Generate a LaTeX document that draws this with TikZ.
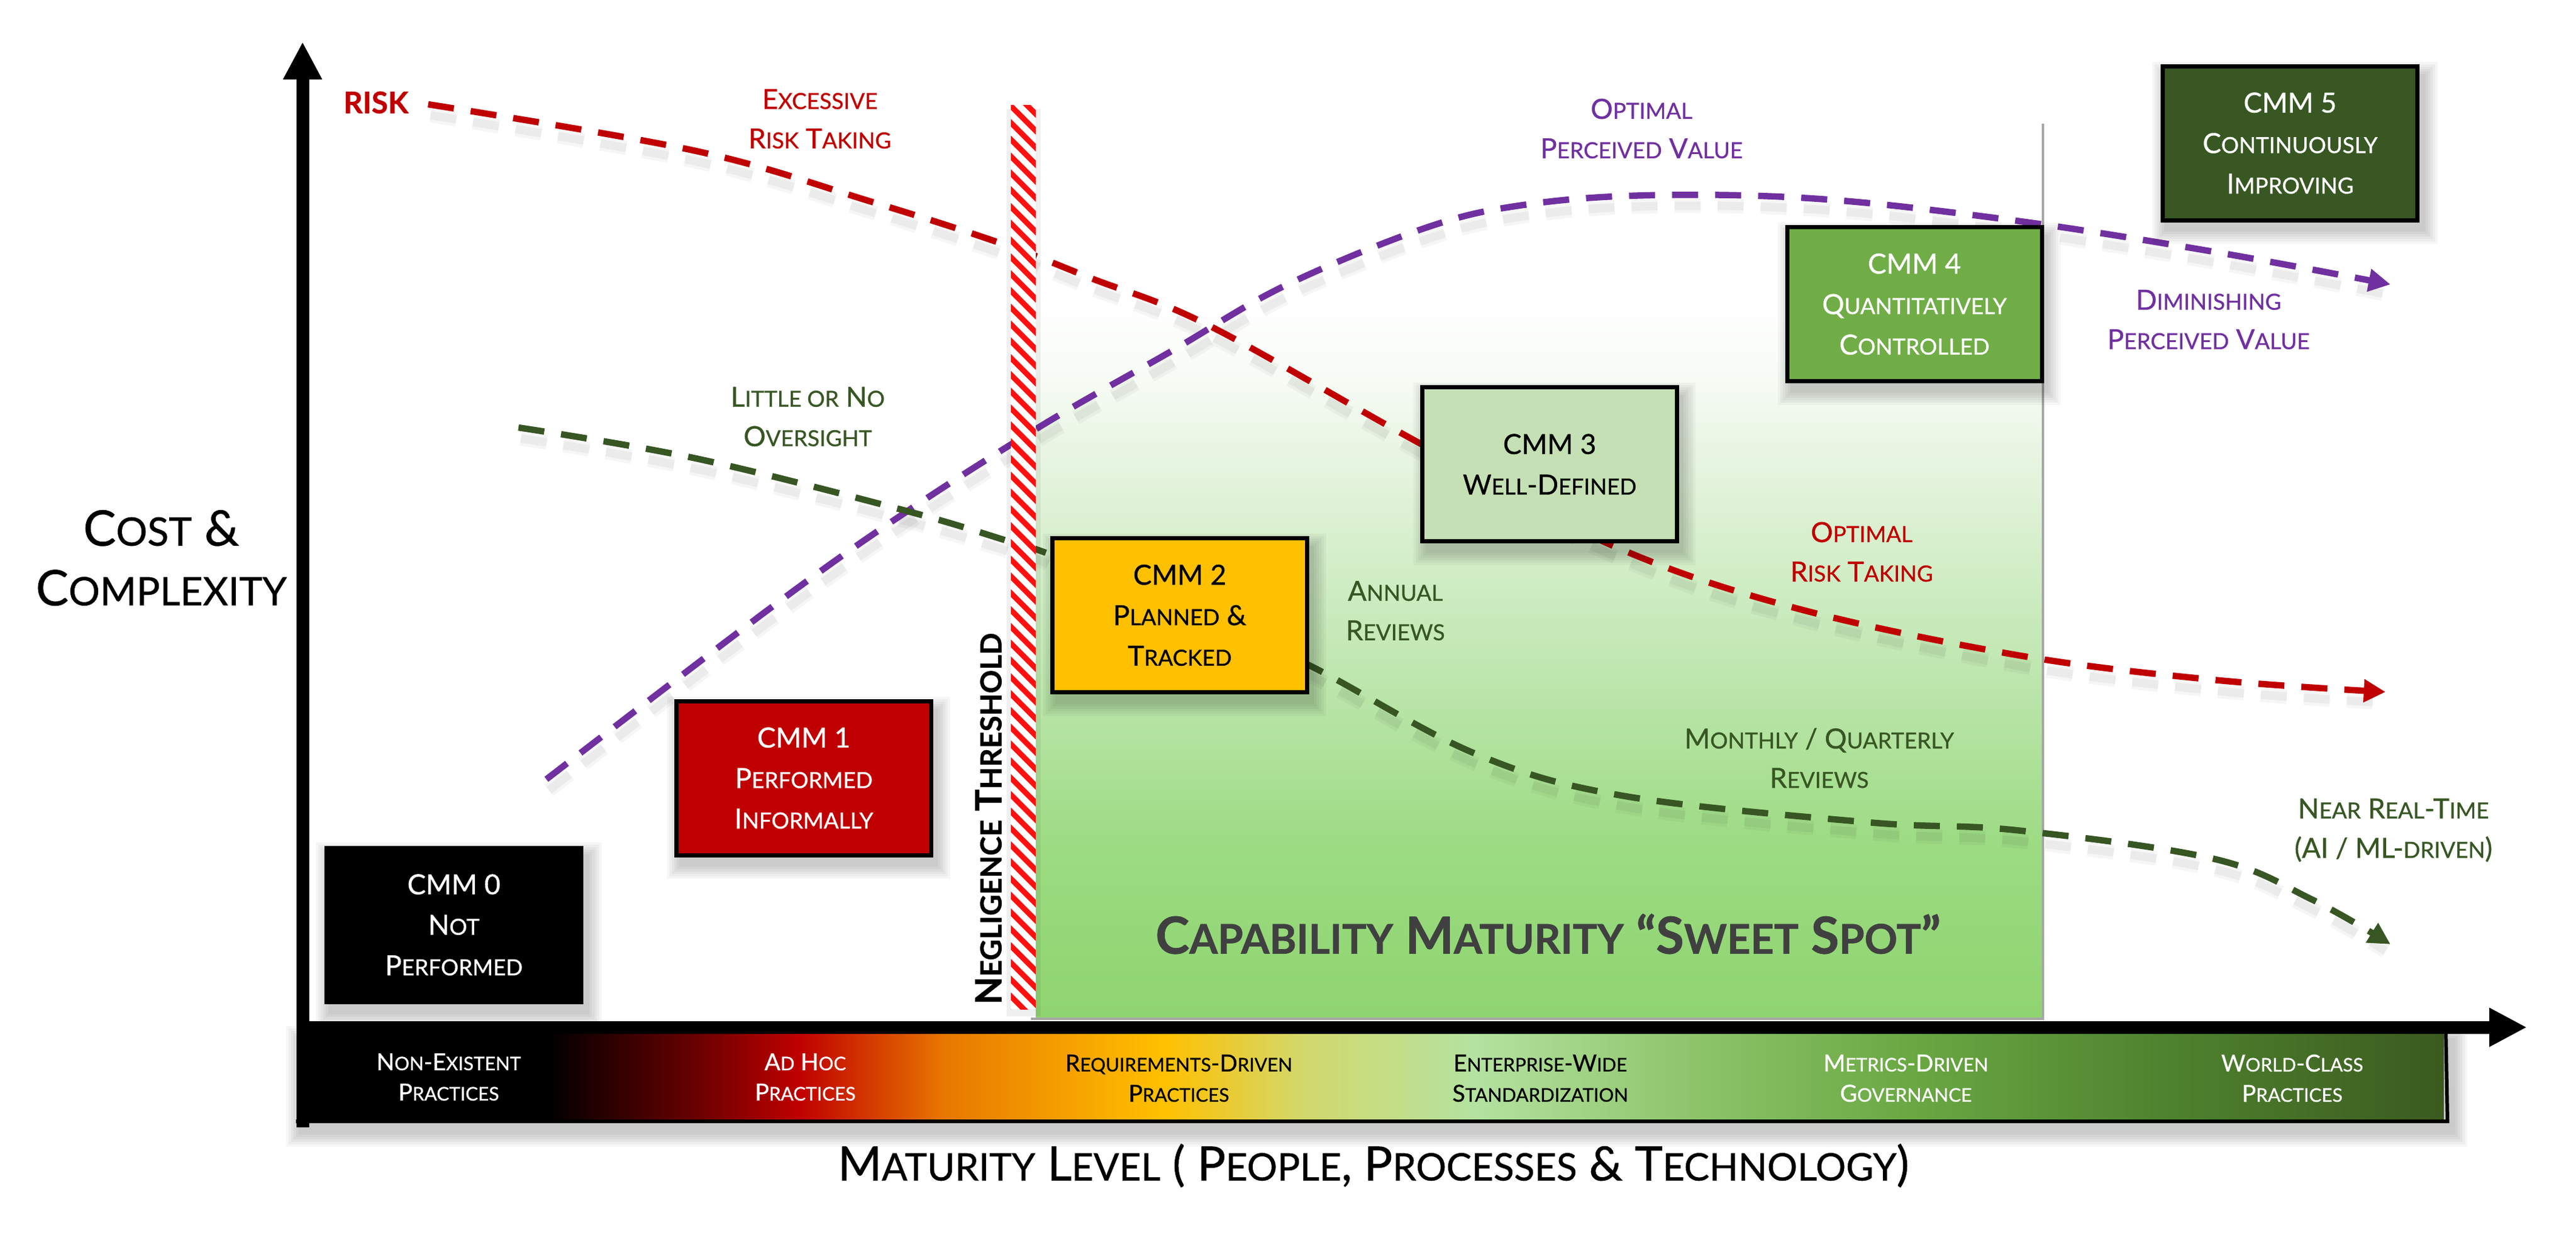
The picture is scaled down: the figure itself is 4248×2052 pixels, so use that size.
\documentclass[tikz,border=0pt]{standalone}
\usepackage{fontspec}
\setmainfont{Lato}[UprightFeatures={FakeBold=0.7}, BoldFeatures={FakeBold=0.8}]
\usetikzlibrary{arrows.meta}
\makeatletter
\newcommand\lc[1]{{\fontsize{\fpeval{0.8*\f@size}}{\f@baselineskip}\selectfont #1}}
\makeatother
\definecolor{cred}{HTML}{C00000}
\definecolor{cpurple}{HTML}{7030A0}
\definecolor{cdgreen}{HTML}{375623}
\definecolor{cgold}{HTML}{FFC000}
\definecolor{clgreen}{HTML}{C5E0B4}
\definecolor{cmgreen}{HTML}{70AD47}
\definecolor{cdkgreen}{HTML}{385723}
\definecolor{hatchred}{HTML}{FF1010}
\definecolor{sweettext}{HTML}{404040}
% band colours
\definecolor{bA}{HTML}{6B0000}
\definecolor{bB}{HTML}{C00000}
\definecolor{bC}{HTML}{E87800}
\definecolor{bD}{HTML}{FFC000}
\definecolor{bE}{HTML}{D2D86C}
\definecolor{bF}{HTML}{B4E2A0}
\definecolor{bG}{HTML}{92C870}
\definecolor{bH}{HTML}{6AA843}
\definecolor{bI}{HTML}{4D802D}
\definecolor{bJ}{HTML}{3B5A1F}
% sweet spot colours
\definecolor{sA}{HTML}{8ED46F}
\definecolor{sB}{HTML}{9CDB82}
\definecolor{sC}{HTML}{BFE7B0}
\definecolor{sD}{HTML}{DCF1D3}
\definecolor{sE}{HTML}{F7FBF5}
\pgfdeclarehorizontalshading{bandshade}{100bp}{color(0bp)=(black); color(30.6bp)=(black); color(34.1bp)=(bA); color(36.5bp)=(bB); color(39.9bp)=(bC); color(45bp)=(bD); color(48.3bp)=(bE); color(52.3bp)=(bF); color(56.8bp)=(bG); color(62.5bp)=(bH); color(68.9bp)=(bI); color(75bp)=(bJ); color(100bp)=(bJ)}
\pgfdeclareverticalshading{sweetshade}{100bp}{color(0bp)=(sA); color(25bp)=(sA); color(34.5bp)=(sB); color(44.6bp)=(sC); color(53.1bp)=(sD); color(60.9bp)=(sE); color(65bp)=(white); color(100bp)=(white)}
\newcommand\softshadow[4]{%
  \foreach \i in {1,...,6}{%
    \fill[black, opacity=0.035] ({#1+8-\i*4},{#2+16-\i*4}) rectangle ({#3+8+\i*4},{#4+16+\i*4});
  }%
}
\begin{document}
\begin{tikzpicture}[x=0.1mm,y=-0.1mm,
  cmmbox/.style={draw=black, line width=0.7mm, minimum width=42mm, minimum height=25.4mm,
    inner sep=0pt, align=center, font=\fontsize{13}{19}\selectfont},
  lbl/.style={align=center, inner sep=0pt, font=\fontsize{13}{18.5}\selectfont},
  bandlbl/.style={align=center, inner sep=0pt, font=\fontsize{11}{14.2}\selectfont},
  dashcurve/.style={line width=1.05mm, dash pattern=on 4.3mm off 2.8mm},
  curveshadowA/.style={line width=2.4mm, dash pattern=on 4.3mm off 2.8mm, draw=black, opacity=0.035},
  curveshadowB/.style={line width=1.4mm, dash pattern=on 4.3mm off 2.8mm, draw=black, opacity=0.045},
  tip/.style={-{Triangle[length=3.6mm,width=3.6mm]}},
  axis/.style={line width=2.1mm, -{Triangle[length=6.2mm,width=6mm]}}
]
\useasboundingbox (0,0) rectangle (4248,2052);
\fill[white] (0,0) rectangle (4248,2052);

% sweet spot area
\shade[shading=sweetshade] (1708,204) rectangle (3369,1680);
\draw[gray!70, line width=0.4mm] (3369,204) -- (3369,1680) -- (1700,1680);

% curve shadows
\foreach \sty in {curveshadowA, curveshadowB}{
\begin{scope}[yshift=-1.8mm, xshift=0.4mm]
\draw[\sty] plot[smooth, tension=0.6] coordinates {(706,172) (1148,249) (1435,332) (1653,402) (1800,459) (1992,536) (2334,727) (2651,896) (2951,1000) (3325,1080) (3650,1121) (3915,1140)};
\draw[\sty] plot[smooth, tension=0.6] coordinates {(901,1285) (1274,1000) (1493,845) (1724,698) (1930,580) (2117,472) (2350,376) (2512,338) (2720,322) (3000,328) (3325,364) (3650,415) (3925,466)};
\draw[\sty] plot[smooth, tension=0.6] coordinates {(855,705) (1148,756) (1493,842) (1665,893) (1734,915) (1950,1000) (2163,1099) (2431,1242) (2675,1312) (3081,1356) (3325,1369) (3650,1416) (3812,1483) (3930,1550)};
\end{scope}
}
% curves
\draw[dashcurve, cred, tip] plot[smooth, tension=0.6] coordinates {(706,172) (1148,249) (1435,332) (1653,402) (1800,459) (1992,536) (2334,727) (2651,896) (2951,1000) (3325,1080) (3650,1121) (3934,1141)};
\draw[dashcurve, cpurple, tip] plot[smooth, tension=0.6] coordinates {(901,1285) (1274,1000) (1493,845) (1724,698) (1930,580) (2117,472) (2350,376) (2512,338) (2720,322) (3000,328) (3325,364) (3650,415) (3942,469)};
\draw[dashcurve, cdgreen, tip] plot[smooth, tension=0.6] coordinates {(855,705) (1148,756) (1493,842) (1665,893) (1734,915) (1950,1000) (2163,1099) (2431,1242) (2675,1312) (3081,1356) (3325,1369) (3650,1416) (3812,1483) (3942,1557)};

% negligence threshold stripe
\fill[black, opacity=0.06] (1660,180) rectangle (1716,1676);
\begin{scope}
\clip (1667,173) rectangle (1708,1664);
\fill[white] (1667,173) rectangle (1708,1664);
\foreach \k in {-4,...,58} \draw[hatchred, line width=0.9mm] (1640,{120+\k*27.7}) -- ++(90,90);
\end{scope}
\node[rotate=90, inner sep=0pt, font=\bfseries\fontsize{17}{17}\selectfont] (neg) at (1630,1350) {N\lc{EGLIGENCE} T\lc{HRESHOLD}};

% boxes
\softshadow{537}{1397}{960}{1653}
\softshadow{1116}{1157}{1535}{1409}
\softshadow{1736}{888}{2155}{1141}
\softshadow{2347}{639}{2764}{892}
\softshadow{2948}{375}{3366}{628}
\softshadow{3565}{110}{3988}{362}
\node[cmmbox, fill=black, text=white] (cmm0) at (748.5,1525) {CMM 0\\N\lc{OT}\\P\lc{ERFORMED}};
\node[cmmbox, fill=cred, text=white] (cmm1) at (1325.5,1283) {CMM 1\\P\lc{ERFORMED}\\I\lc{NFORMALLY}};
\node[cmmbox, fill=cgold, text=black] (cmm2) at (1945.5,1014.5) {CMM 2\\P\lc{LANNED} \&\\T\lc{RACKED}};
\node[cmmbox, fill=clgreen, text=black] (cmm3) at (2555.5,765.5) {CMM 3\\W\lc{ELL}-D\lc{EFINED}};
\node[cmmbox, fill=cmgreen, text=white] (cmm4) at (3157,501.5) {CMM 4\\Q\lc{UANTITATIVELY}\\C\lc{ONTROLLED}};
\node[cmmbox, fill=cdkgreen, text=white] (cmm5) at (3776.5,236) {CMM 5\\C\lc{ONTINUOUSLY}\\I\lc{MPROVING}};

% labels
\node[lbl, text=cred, font=\bfseries\fontsize{14}{18}\selectfont] (risk) at (620,169) {RISK};
\node[lbl, text=cred] (excess) at (1352,196) {E\lc{XCESSIVE}\\R\lc{ISK} T\lc{AKING}};
\node[lbl, text=cdgreen] (little) at (1332,687) {L\lc{ITTLE OR} N\lc{O}\\O\lc{VERSIGHT}};
\node[lbl, text=cpurple] (optval) at (2707,212) {O\lc{PTIMAL}\\P\lc{ERCEIVED} V\lc{ALUE}};
\node[lbl, text=cpurple] (dimval) at (3642,527) {D\lc{IMINISHING}\\P\lc{ERCEIVED} V\lc{ALUE}};
\node[lbl, text=cred] (optrisk) at (3070,910) {O\lc{PTIMAL}\\R\lc{ISK} T\lc{AKING}};
\node[lbl, text=cdgreen] (annual) at (2301,1007) {A\lc{NNUAL}\\R\lc{EVIEWS}};
\node[lbl, text=cdgreen] (monthly) at (3000,1250) {M\lc{ONTHLY} / Q\lc{UARTERLY}\\R\lc{EVIEWS}};
\node[lbl, text=cdgreen] (nrt) at (3947,1369) {N\lc{EAR} R\lc{EAL}-T\lc{IME}\\(AI / ML-\lc{DRIVEN})};
\node[inner sep=0pt, text=sweettext, font=\bfseries\fontsize{24}{28}\selectfont] (sweet) at (2553,1540) {C\lc{APABILITY} M\lc{ATURITY} “S\lc{WEET} S\lc{POT}”};
\node[align=center, inner sep=0pt, font=\fontsize{23}{28}\selectfont] (cost) at (266,920) {C\lc{OST} \&\\C\lc{OMPLEXITY}};
\node[inner sep=0pt, font=\fontsize{22.2}{28}\selectfont] (title) at (2265,1922) {M\lc{ATURITY} L\lc{EVEL} ( P\lc{EOPLE}, P\lc{ROCESSES} \& T\lc{ECHNOLOGY})};

% band
\softshadow{488}{1700}{4037}{1851}
\shade[shading=bandshade] (509,1704) rectangle (4030,1846);
\draw[black, line width=0.6mm] (488,1849) -- (4036,1849) -- (4033,1690);
\node[bandlbl, text=white] (b1) at (740,1776) {N\lc{ON}-E\lc{XISTENT}\\P\lc{RACTICES}};
\node[bandlbl, text=white] (b2) at (1328,1776) {A\lc{D} H\lc{OC}\\P\lc{RACTICES}};
\node[bandlbl, text=black] (b3) at (1944,1778) {R\lc{EQUIREMENTS}-D\lc{RIVEN}\\P\lc{RACTICES}};
\node[bandlbl, text=black] (b4) at (2540,1778) {E\lc{NTERPRISE}-W\lc{IDE}\\S\lc{TANDARDIZATION}};
\node[bandlbl, text=white] (b5) at (3143,1778) {M\lc{ETRICS}-D\lc{RIVEN}\\G\lc{OVERNANCE}};
\node[bandlbl, text=white] (b6) at (3780,1778) {W\lc{ORLD}-C\lc{LASS}\\P\lc{RACTICES}};

% axes
\coordinate (ybot) at (499,1859);
\coordinate (ytop) at (499,69);
\coordinate (xleft) at (489,1694);
\coordinate (xright) at (4167,1694);
\draw[axis] (ybot) -- (ytop);
\draw[axis] (xleft) -- (xright);
\end{tikzpicture}
\end{document}
